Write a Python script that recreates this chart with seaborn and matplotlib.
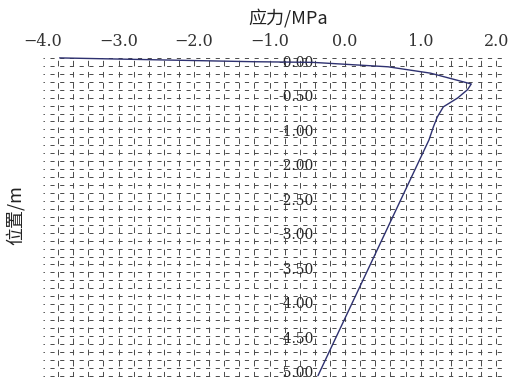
import numpy as np
import pandas as pd
import matplotlib
matplotlib.use("Agg")
import matplotlib.pyplot as plt
import seaborn as sns

# Data
stress = [-3.78, -1.21, -0.43, 0.57, 1.13, 1.67, 1.62, 1.49, 1.30, 1.22, 1.17, 1.11, -0.36]
depth = [0.0, -0.06, -0.07, -0.14, -0.24, -0.41, -0.50, -0.63, -0.77, -0.93, -1.08, -1.29, -5.0]

x_ticks = [-4.0, -3.0, -2.0, -1.0, 0.0, 1.0, 2.0]
x_tick_labels = ["\u22124.0", "\u22123.0", "\u22122.0", "\u22121.0", "0.0", "1.0", "2.0"]
y_tick_labels = ["-0.00", "-0.50", "-1.00", "-2.00", "-2.50", "-3.00", "-3.50", "-4.00", "-4.50", "-5.00"]

sns.set_style("white")
plt.rcParams['font.family'] = ['DejaVu Serif', 'Noto Sans CJK SC']
plt.rcParams['lines.scale_dashes'] = False

df = pd.DataFrame({"stress": stress, "depth": depth})

fig = plt.figure(figsize=(5.08, 3.78), dpi=100)
ax = fig.add_axes([43/508, 1 - 377/378, 460/508, (377 - 56)/378])

# dense dashed grid
for gx in np.arange(-3.8, 2.1, 0.2):
    ax.axvline(gx, color="#4a4a4a", lw=0.7, ls=(0, (4.0, 4.0)), zorder=0)
for gy in np.arange(0, -5.01, -0.125):
    ax.axhline(gy, color="#4a4a4a", lw=0.7, ls=(2, (3.0, 4.0)), zorder=0)

sns.lineplot(data=df, x="stress", y="depth", sort=False, estimator=None,
             color="#2e3170", lw=1.0, ax=ax, zorder=3)

ax.set_xlim(-3.96, 2.09)
ax.set_ylim(-5.02, 0.03)

ax.xaxis.tick_top()
ax.set_xticks(x_ticks)
ax.set_xticklabels(x_tick_labels, fontsize=11.5, color="#333333")
ax.tick_params(axis="x", length=0, pad=4)

yt = np.linspace(-0.05, -4.94, len(y_tick_labels))
ax.set_yticks(yt)
ax.set_yticklabels(y_tick_labels, fontsize=13, color="#6a6a6a")
ax.spines["left"].set_position(("data", -0.42))
ax.tick_params(axis="y", length=0, pad=0)

for s in ax.spines.values():
    s.set_color("none")

ax.set_xlabel("")
ax.set_ylabel("")
fig.text(288/508, 1 - 18/378, "应力/MPa", fontsize=13,
         family=["Noto Sans CJK SC", "DejaVu Sans"], ha="center", va="center", color="#222222")
fig.text(15/508, 1 - 215/378, "位置/m", rotation=90, fontsize=13,
         family=["Noto Sans CJK SC", "DejaVu Sans"], ha="center", va="center", color="#222222")

fig.savefig("out.png", dpi=100)
